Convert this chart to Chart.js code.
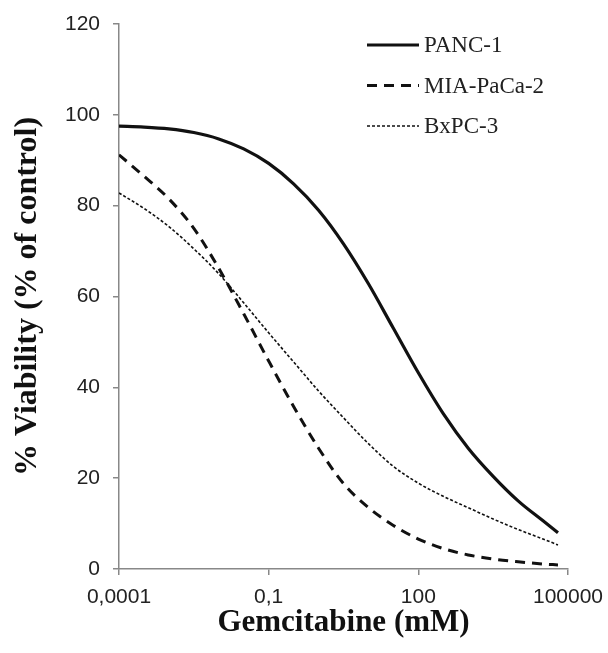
<!DOCTYPE html>
<html lang="en">
<head>
  <meta charset="UTF-8" />
  <title>Gemcitabine viability</title>
  <script src="https://cdn.jsdelivr.net/npm/chart.js@4.4.0/dist/chart.umd.min.js"></script>
  <style>
    html, body { margin: 0; padding: 0; background: #fff; }
    .chart-box { width: 608px; height: 653px; position: relative; }
  </style>
</head>
<body>
  <div class="chart-box">
    <canvas id="viability-chart"></canvas>
  </div>
  <script>
    // Dose (mM) and % viability
    var doses = [0.0001, 0.000316, 0.001, 0.00316, 0.01, 0.0316, 0.1, 0.316, 1, 3.16, 10, 31.6, 100, 316, 1000, 3160, 10000, 31600, 63000];
    var panc1 = [97.5, 97.3, 96.9, 96.1, 94.7, 92.5, 89.3, 84.8, 79.0, 71.6, 62.8, 53.0, 43.2, 34.2, 26.6, 20.4, 15.0, 10.6, 8.0];
    var miaPaCa2 = [91.2, 86.5, 81.5, 75.0, 66.2, 56.2, 45.8, 35.8, 26.6, 18.8, 13.5, 9.6, 6.6, 4.5, 3.1, 2.2, 1.6, 1.1, 0.9];
    var bxpc3 = [82.8, 79.4, 75.4, 70.5, 65.0, 58.6, 52.0, 45.6, 39.2, 33.3, 27.6, 22.6, 18.9, 16.0, 13.5, 11.0, 8.7, 6.6, 5.3];

    var seriesNames = ['PANC-1', 'MIA-PaCa-2', 'BxPC-3'];
    var xTickValues = [0.0001, 0.1, 100, 100000];
    var xTickLabels = ['0,0001', '0,1', '100', '100000'];

    function toPoints(values) {
      return values.map(function (v, i) { return { x: doses[i], y: v }; });
    }

    // legend drawn inside the plot, top right
    var insideLegend = {
      id: 'insideLegend',
      afterDraw: function (chart) {
        var ctx = chart.ctx;
        chart.data.datasets.forEach(function (ds, i) {
          var y = 45 + i * 40.5;
          ctx.save();
          ctx.strokeStyle = ds.borderColor;
          ctx.lineWidth = ds.borderWidth;
          ctx.setLineDash(ds.borderDash || []);
          ctx.beginPath();
          ctx.moveTo(367, y);
          ctx.lineTo(419, y);
          ctx.stroke();
          ctx.setLineDash([]);
          ctx.fillStyle = '#222';
          ctx.font = '23px "Liberation Serif"';
          ctx.textBaseline = 'middle';
          ctx.fillText(ds.label, 424, y + 1);
          ctx.restore();
        });
      }
    };

    var axisGrid = {
      display: true,
      drawOnChartArea: false,
      drawTicks: true,
      tickLength: 6,
      color: '#888',
      lineWidth: 1.5
    };

    new Chart(document.getElementById('viability-chart'), {
      type: 'line',
      data: {
        datasets: [{
          label: seriesNames[0],
          data: toPoints(panc1),
          borderColor: '#111',
          borderWidth: 3.2,
          borderDash: []
        }, {
          label: seriesNames[1],
          data: toPoints(miaPaCa2),
          borderColor: '#111',
          borderWidth: 3,
          borderDash: [10, 7]
        }, {
          label: seriesNames[2],
          data: toPoints(bxpc3),
          borderColor: '#111',
          borderWidth: 1.6,
          borderDash: [3, 2]
        }]
      },
      options: {
        responsive: true,
        maintainAspectRatio: false,
        animation: false,
        layout: { padding: { top: 24, right: 40, left: 0, bottom: 0 } },
        elements: {
          point: { radius: 0 },
          line: { cubicInterpolationMode: 'monotone', fill: false }
        },
        plugins: {
          legend: { display: false },
          tooltip: { enabled: false }
        },
        scales: {
          x: {
            type: 'logarithmic',
            min: 0.0001,
            max: 100000,
            afterBuildTicks: function (scale) {
              scale.ticks = xTickValues.map(function (v) { return { value: v }; });
            },
            afterFit: function (scale) {
              scale.height = 84;
              // keep the plot edges fixed, labels may overflow into the padding
              scale.paddingLeft = 0;
              scale.paddingRight = 0;
            },
            grid: axisGrid,
            border: { display: true, color: '#888', width: 1.5 },
            ticks: {
              autoSkip: false,
              maxRotation: 0,
              padding: 10,
              color: '#222',
              font: { family: '"Liberation Sans"', size: 21 },
              callback: function (value, index) { return xTickLabels[index]; }
            },
            title: {
              display: true,
              text: 'Gemcitabine (mM)',
              color: '#111',
              padding: { top: 0, bottom: 11 },
              font: { family: '"Liberation Serif"', size: 31, weight: 'bold' }
            }
          },
          y: {
            min: 0,
            max: 120,
            afterFit: function (scale) {
              scale.width = 119;
              scale.paddingTop = 0;
              scale.paddingBottom = 0;
            },
            grid: axisGrid,
            border: { display: true, color: '#888', width: 1.5 },
            ticks: {
              stepSize: 20,
              padding: 13,
              color: '#222',
              font: { family: '"Liberation Sans"', size: 21 }
            },
            title: {
              display: true,
              text: '% Viability (% of control)',
              color: '#111',
              padding: { top: 9, bottom: 0 },
              font: { family: '"Liberation Serif"', size: 32, weight: 'bold' }
            }
          }
        }
      },
      plugins: [insideLegend]
    });
  </script>
</body>
</html>
